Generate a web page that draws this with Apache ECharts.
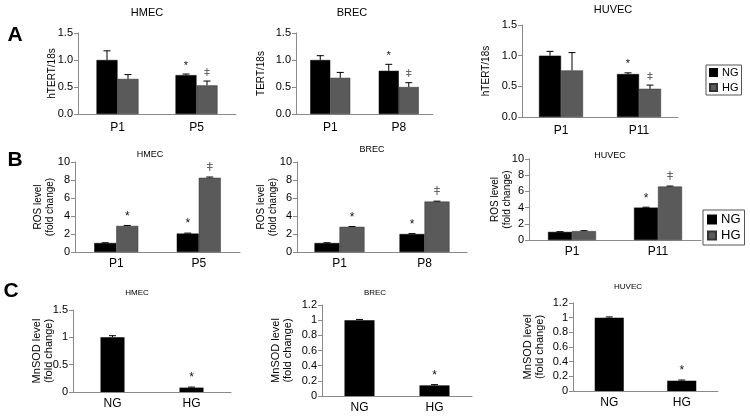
<!DOCTYPE html>
<html><head><meta charset="utf-8">
<script src="https://cdn.jsdelivr.net/npm/echarts@6/dist/echarts.min.js"></script>
<style>html,body{margin:0;padding:0;background:#fff}#c{width:750px;height:416px}</style>
</head><body><div id="c"></div>
<script>
// ---------------- data ----------------
const cellLines = ['HMEC', 'BREC', 'HUVEC'];
const passages = [['P1', 'P5'], ['P1', 'P8'], ['P1', 'P11']];
const tertYNames = ['hTERT/18s', 'TERT/18s', 'hTERT/18s'];
const tertNG = [[1.00, 0.72], [1.00, 0.80], [1.00, 0.70]];
const tertNGErr = [[0.17, 0.02], [0.08, 0.12], [0.07, 0.02]];
const tertHG = [[0.65, 0.53], [0.67, 0.50], [0.76, 0.46]];
const tertHGErr = [[0.08, 0.08], [0.10, 0.08], [0.29, 0.06]];
const tertNGSig = [['', '*'], ['', '*'], ['', '*']];
const tertHGSig = [['', 'ǂ'], ['', 'ǂ'], ['', 'ǂ']];

const rosNG = [[1.00, 2.05], [1.00, 2.00], [1.00, 4.00]];
const rosNGErr = [[0.03, 0.05], [0.03, 0.04], [0.03, 0.05]];
const rosHG = [[2.90, 8.25], [2.80, 5.60], [1.10, 6.60]];
const rosHGErr = [[0.05, 0.08], [0.04, 0.05], [0.05, 0.06]];
const rosNGSig = [['', '*'], ['', '*'], ['', '*']];
const rosHGSig = [['*', 'ǂ'], ['*', 'ǂ'], ['', 'ǂ']];

const sodGroups = ['NG', 'HG'];
const sodVal = [[1.00, 0.08], [1.00, 0.14], [1.00, 0.14]];
const sodErr = [[0.03, 0.01], [0.01, 0.01], [0.01, 0.01]];
const sodSig = [['', '*'], ['', '*'], ['', '*']];

const tertAxis = { min: 0, max: 1.5, interval: 0.5 };
const rosAxis = { min: 0, max: 10, interval: 2 };
const sodAxes = [{ min: 0, max: 1.5, interval: 0.5 }, { min: 0, max: 1.2, interval: 0.2 }, { min: 0, max: 1.2, interval: 0.2 }];

// ---------------- layout ----------------
const FONT = '"Liberation Sans", Arial, sans-serif';
const NG_COLOR = '#000000';
const HG_COLOR = '#5a5a5a';
const AXIS_COLOR = '#8a8a8a';

const layA = [
  { left: 78, top: 33, width: 158, height: 81, bw: 21, gap: 20, tx: 147, ty: 13 },
  { left: 296, top: 33, width: 137, height: 81, bw: 20, gap: 29, tx: 352, ty: 13 },
  { left: 522, top: 25, width: 156, height: 92, bw: 22, gap: 30, tx: 613, ty: 10 }
];
const layB = [
  { left: 75, top: 162, width: 165, height: 90, bw: 22, gap: 19, tx: 150, ty: 155 },
  { left: 297, top: 162, width: 170, height: 90, bw: 25, gap: 18, tx: 372, ty: 150 },
  { left: 529, top: 159, width: 172, height: 81, bw: 24, gap: 16, tx: 610, ty: 156 }
];
const layC = [
  { left: 73, top: 310, width: 158, height: 82, bw: 24, gap: 18, tx: 137, ty: 293 },
  { left: 322, top: 305, width: 150, height: 91, bw: 30, gap: 28, tx: 375, ty: 293 },
  { left: 573, top: 303, width: 145, height: 88, bw: 29, gap: 27, tx: 628, ty: 287 }
];

const grid = [], xAxis = [], yAxis = [], series = [], graphic = [];

function addAxes(lay, cats, yCfg, yName, tickFmt, catMargin) {
  const gi = grid.length;
  grid.push({ left: lay.left, top: lay.top, width: lay.width, height: lay.height, containLabel: false });
  xAxis.push({
    type: 'category', gridIndex: gi, data: cats,
    axisLine: { lineStyle: { color: AXIS_COLOR, width: 1 } },
    axisTick: { show: false },
    axisLabel: { color: '#000', fontFamily: FONT, fontSize: 12, margin: catMargin }
  });
  yAxis.push({
    type: 'value', gridIndex: gi, min: yCfg.min, max: yCfg.max, interval: yCfg.interval,
    splitLine: { show: false },
    axisLine: { show: true, lineStyle: { color: AXIS_COLOR, width: 1 } },
    axisTick: { show: true, length: 4, inside: false, lineStyle: { color: AXIS_COLOR } },
    axisLabel: { color: '#000', fontFamily: FONT, fontSize: 11, margin: 5, formatter: tickFmt },
    name: yName, nameLocation: 'middle', nameRotate: 90, nameGap: lay.gap, nameMoveOverlap: false,
    nameTextStyle: { color: '#000', fontFamily: FONT, fontSize: 10, lineHeight: 12 }
  });
  return gi;
}

function errSeries(gi, vals, errs, sigs, offset, sigSize) {
  return {
    type: 'custom', xAxisIndex: gi, yAxisIndex: gi, z: 5, silent: true,
    data: vals.map((v, i) => [i, v, v + errs[i]]),
    renderItem: function (params, api) {
      const i = params.dataIndex;
      const b = api.coord([api.value(0), api.value(1)]);
      const t = api.coord([api.value(0), api.value(2)]);
      const x = b[0] + offset;
      const ch = [
        { type: 'line', shape: { x1: x, y1: b[1], x2: x, y2: t[1] }, style: { stroke: '#000', lineWidth: 1 } },
        { type: 'line', shape: { x1: x - 3.5, y1: t[1], x2: x + 3.5, y2: t[1] }, style: { stroke: '#000', lineWidth: 1 } }
      ];
      if (sigs[i]) {
        ch.push({ type: 'text', style: { text: sigs[i], x: x, y: t[1] - 3, align: 'center', verticalAlign: 'bottom',
          font: sigSize + 'px ' + FONT, fill: sigs[i] === '*' ? '#111' : '#666' } });
      }
      return { type: 'group', children: ch };
    }
  };
}

function pairedPanel(lay, cats, yCfg, yName, fmt, ng, ngE, hg, hgE, ngS, hgS, catMargin, sigSize) {
  const gi = addAxes(lay, cats, yCfg, yName, fmt, catMargin);
  series.push({ name: 'NG', type: 'bar', xAxisIndex: gi, yAxisIndex: gi, data: ng, barWidth: lay.bw, barGap: '0%',
    itemStyle: { color: NG_COLOR, borderColor: '#000', borderWidth: 0.5 } });
  series.push({ name: 'HG', type: 'bar', xAxisIndex: gi, yAxisIndex: gi, data: hg, barWidth: lay.bw, barGap: '0%',
    itemStyle: { color: HG_COLOR, borderColor: '#333', borderWidth: 0.5 } });
  series.push(errSeries(gi, ng, ngE, ngS, -lay.bw / 2, sigSize));
  series.push(errSeries(gi, hg, hgE, hgS, lay.bw / 2, sigSize));
}

function titleText(txt, x, y, size) {
  graphic.push({ type: 'text', x: x, y: y, silent: true,
    style: { text: txt, align: 'center', verticalAlign: 'middle', font: size + 'px ' + FONT, fill: '#000' } });
}

// Row A
for (let k = 0; k < 3; k++) {
  pairedPanel(layA[k], passages[k], tertAxis, tertYNames[k], v => v.toFixed(1),
    tertNG[k], tertNGErr[k], tertHG[k], tertHGErr[k], tertNGSig[k], tertHGSig[k], 8, 11);
  titleText(cellLines[k], layA[k].tx, layA[k].ty, 11);
}
// Row B
for (let k = 0; k < 3; k++) {
  pairedPanel(layB[k], passages[k], rosAxis, 'ROS level\n(fold change)', v => String(v),
    rosNG[k], rosNGErr[k], rosHG[k], rosHGErr[k], rosNGSig[k], rosHGSig[k], 6, 12);
  titleText(cellLines[k], layB[k].tx, layB[k].ty, 9);
}
// Row C
for (let k = 0; k < 3; k++) {
  const gi = addAxes(layC[k], sodGroups, sodAxes[k], 'MnSOD level\n(fold change)', v => String(v), 6);
  yAxis[gi].nameTextStyle.fontSize = 11;
  series.push({ name: 'MnSOD', type: 'bar', xAxisIndex: gi, yAxisIndex: gi, data: sodVal[k], barWidth: layC[k].bw,
    itemStyle: { color: NG_COLOR } });
  series.push(errSeries(gi, sodVal[k], sodErr[k], sodSig[k], 0, 12));
  titleText(cellLines[k], layC[k].tx, layC[k].ty, 8);
}

// Panel letters
[['A', 15, 35], ['B', 15, 160], ['C', 11, 291]].forEach(p => {
  graphic.push({ type: 'text', x: p[1], y: p[2], silent: true,
    style: { text: p[0], align: 'center', verticalAlign: 'middle', font: 'bold 21px ' + FONT, fill: '#000' } });
});

const legendCommon = {
  orient: 'vertical', data: ['NG', 'HG'], icon: 'rect', selectedMode: false,
  borderColor: '#555', borderWidth: 1, borderRadius: 0
};
const legend = [
  Object.assign({}, legendCommon, { left: 706, top: 65, itemWidth: 7, itemHeight: 7, itemGap: 4, padding: [2, 3, 2, 3],
    textStyle: { fontFamily: FONT, fontSize: 11, color: '#000' } }),
  Object.assign({}, legendCommon, { left: 703, top: 210, itemWidth: 8, itemHeight: 8, itemGap: 3, padding: [3, 4, 3, 4],
    textStyle: { fontFamily: FONT, fontSize: 13, color: '#000' } })
];

const chart = echarts.init(document.getElementById('c'), null, { renderer: 'canvas' });
chart.setOption({
  animation: false, backgroundColor: '#fff',
  grid, xAxis, yAxis, series, legend, graphic
});
</script></body></html>
